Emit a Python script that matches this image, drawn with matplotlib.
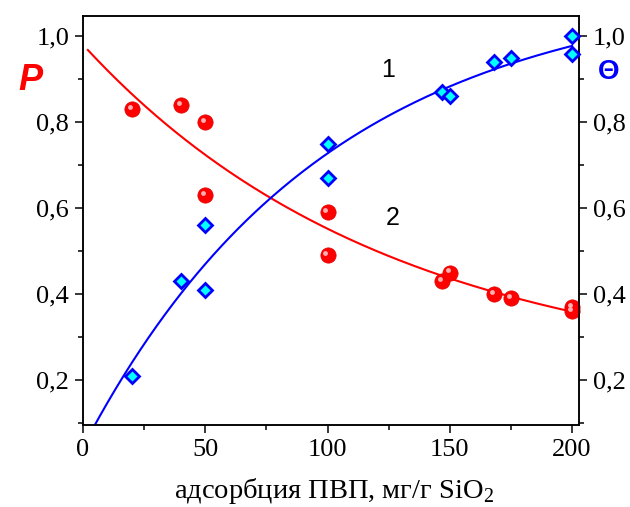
import matplotlib
matplotlib.use('Agg')
import matplotlib.pyplot as plt
import matplotlib.transforms as mtransforms
from matplotlib.ticker import MultipleLocator, FuncFormatter
import numpy as np

# ── Data ────────────────────────────────────────────────────────────
x_p = [20, 40, 50, 50, 100, 100, 147, 150, 168, 175, 200, 200]
p_vals = [0.83, 0.84, 0.80, 0.63, 0.59, 0.49, 0.43, 0.45, 0.40, 0.39, 0.37, 0.36]

x_theta = [20, 40, 50, 50, 100, 100, 147, 150, 168, 175, 200, 200]
theta_vals = [0.21, 0.43, 0.56, 0.41, 0.75, 0.67, 0.87, 0.86, 0.94, 0.95, 1.00, 0.96]

x_ticks = [0, 50, 100, 150, 200]
y_ticks = [0.2, 0.4, 0.6, 0.8, 1.0]


def fit_exp(x, y):
    """y = a + b*exp(-x/t), grid search on t, linear lstsq for a, b."""
    x = np.asarray(x, float)
    y = np.asarray(y, float)
    best = None
    for t in np.linspace(20, 400, 761):
        A = np.column_stack([np.ones_like(x), np.exp(-x / t)])
        coef, *_ = np.linalg.lstsq(A, y, rcond=None)
        r = np.sum((A @ coef - y) ** 2)
        if best is None or r < best[0]:
            best = (r, coef[0], coef[1], t)
    _, a, b, t = best
    return lambda xx: a + b * np.exp(-np.asarray(xx) / t)


fit_p = fit_exp(x_p, p_vals)
fit_theta = fit_exp(x_theta, theta_vals)

plt.rcParams['font.family'] = 'Liberation Serif'
plt.rcParams['mathtext.fontset'] = 'custom'
plt.rcParams['mathtext.rm'] = 'Liberation Serif'

fig = plt.figure(figsize=(6.3, 5.07), dpi=100)
ax = fig.add_axes([0.1317, 0.1617, 0.919 - 0.1317, 0.969 - 0.1617])
ax2 = ax.twinx()

xmin, xmax = 0, 202.8
ymin, ymax = 0.095, 1.048

# fit curves
xx_p = np.linspace(2, 200, 300)
ax.plot(xx_p, fit_p(xx_p), color='#ff0000', lw=1.5, zorder=2)
xx_t = np.linspace(0, 200, 300)
ax2.plot(xx_t, fit_theta(xx_t), color='#0000ff', lw=1.5, zorder=2)

# red "spheres"
ax.plot(x_p, p_vals, 'o', ms=11, color='#ff0000', mec='#e00000', mew=0.5,
        zorder=3, clip_on=False)
hl = mtransforms.offset_copy(ax.transData, fig=fig, x=-1.5, y=1.5, units='points')
ax.plot(x_p, p_vals, 'o', ms=3.5, color='#ffb0b0', mec='none',
        transform=hl, zorder=4, clip_on=False)

# blue diamonds
ax2.plot(x_theta, theta_vals, 'D', ms=7.5, mfc='#00ffff', mec='#0000ff', mew=2,
         zorder=3, clip_on=False)

for a in (ax, ax2):
    a.set_xlim(xmin, xmax)
    a.set_ylim(ymin, ymax)
    a.set_yticks(y_ticks)
    a.yaxis.set_minor_locator(MultipleLocator(0.1))
    a.yaxis.set_major_formatter(FuncFormatter(lambda v, _: f"{v:.1f}".replace('.', ',')))
    for s in a.spines.values():
        s.set_linewidth(1.1)

ax.set_xticks(x_ticks)
ax.xaxis.set_minor_locator(MultipleLocator(25))
ax.tick_params(which='major', direction='out', length=6, width=1.1, labelsize=19, pad=4)
ax.tick_params(which='minor', direction='out', length=3.5, width=1.1)
ax.tick_params(axis='x', which='both', top=False)
ax2.tick_params(which='major', direction='out', length=6, width=1.1, labelsize=19, pad=4)
ax2.tick_params(which='minor', direction='out', length=3.5, width=1.1)

# axis labels / annotations
fig.text(334 / 630, 1 - 498 / 507, 'адсорбция ПВП, мг/г SiO$_2$', fontsize=20.5,
         ha='center', va='baseline')
fig.text(30 / 630, 1 - 80 / 507, 'P', color='#ff0000', fontsize=26,
         fontweight='bold', style='italic', family='Liberation Sans',
         ha='center', va='center')
fig.text(609 / 630, 1 - 72 / 507, 'Θ', color='#0000ff', fontsize=20,
         fontweight='bold', family='Liberation Sans', ha='center', va='center')
fig.text(388 / 630, 1 - 70 / 507, '1', fontsize=18, family='Liberation Sans',
         ha='center', va='center')
fig.text(393 / 630, 1 - 218 / 507, '2', fontsize=18, family='Liberation Sans',
         ha='center', va='center')

fig.savefig('out.png', dpi=100)
